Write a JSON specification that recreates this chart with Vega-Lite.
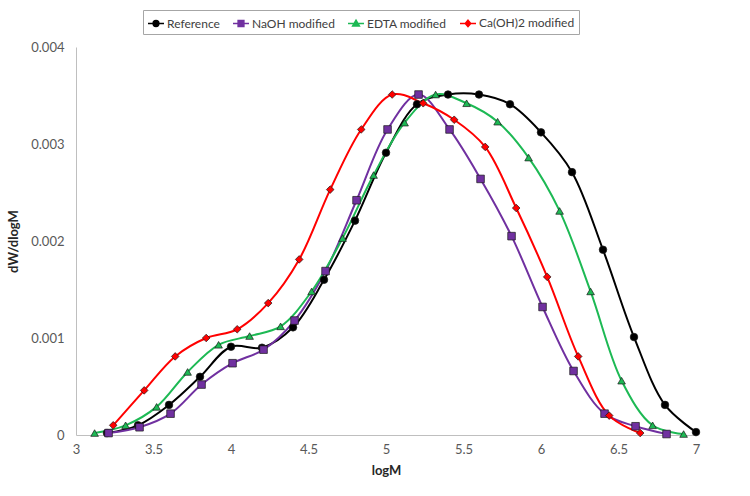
{
  "$schema": "https://vega.github.io/schema/vega-lite/v6.json",
  "autosize": "none",
  "width": 620,
  "height": 388,
  "padding": {"left": 76, "top": 47, "right": 54, "bottom": 61},
  "background": "white",
  "config": {
    "view": {"stroke": null},
    "font": "Lato",
    "axis": {
      "grid": false,
      "ticks": false,
      "domainColor": "#bfbfbf",
      "domainWidth": 1,
      "labelFont": "Lato",
      "labelFontSize": 13,
      "labelColor": "#595959",
      "titleFont": "Lato",
      "titleFontSize": 13,
      "titleFontWeight": "bold",
      "titleColor": "#262626"
    }
  },
  "data": {
    "values": [
      {"series": "Reference", "logM": 3.2, "dw": 0.00002},
      {"series": "Reference", "logM": 3.4, "dw": 0.0001},
      {"series": "Reference", "logM": 3.6, "dw": 0.00031},
      {"series": "Reference", "logM": 3.8, "dw": 0.0006},
      {"series": "Reference", "logM": 4.0, "dw": 0.00091},
      {"series": "Reference", "logM": 4.2, "dw": 0.0009},
      {"series": "Reference", "logM": 4.4, "dw": 0.00111},
      {"series": "Reference", "logM": 4.6, "dw": 0.0016},
      {"series": "Reference", "logM": 4.8, "dw": 0.00221},
      {"series": "Reference", "logM": 5.0, "dw": 0.00291},
      {"series": "Reference", "logM": 5.2, "dw": 0.00341},
      {"series": "Reference", "logM": 5.4, "dw": 0.00351},
      {"series": "Reference", "logM": 5.6, "dw": 0.00351},
      {"series": "Reference", "logM": 5.8, "dw": 0.00341},
      {"series": "Reference", "logM": 6.0, "dw": 0.00312},
      {"series": "Reference", "logM": 6.2, "dw": 0.00271},
      {"series": "Reference", "logM": 6.4, "dw": 0.00191},
      {"series": "Reference", "logM": 6.6, "dw": 0.00101},
      {"series": "Reference", "logM": 6.8, "dw": 0.00031},
      {"series": "Reference", "logM": 7.0, "dw": 0.00003},
      {"series": "NaOH modified", "logM": 3.21, "dw": 0.00002},
      {"series": "NaOH modified", "logM": 3.41, "dw": 0.00008},
      {"series": "NaOH modified", "logM": 3.61, "dw": 0.00022},
      {"series": "NaOH modified", "logM": 3.81, "dw": 0.00052},
      {"series": "NaOH modified", "logM": 4.01, "dw": 0.00074},
      {"series": "NaOH modified", "logM": 4.21, "dw": 0.00088},
      {"series": "NaOH modified", "logM": 4.41, "dw": 0.00118},
      {"series": "NaOH modified", "logM": 4.61, "dw": 0.00169},
      {"series": "NaOH modified", "logM": 4.81, "dw": 0.00242},
      {"series": "NaOH modified", "logM": 5.01, "dw": 0.00315},
      {"series": "NaOH modified", "logM": 5.21, "dw": 0.00351},
      {"series": "NaOH modified", "logM": 5.41, "dw": 0.00315},
      {"series": "NaOH modified", "logM": 5.61, "dw": 0.00264},
      {"series": "NaOH modified", "logM": 5.81, "dw": 0.00205},
      {"series": "NaOH modified", "logM": 6.01, "dw": 0.00132},
      {"series": "NaOH modified", "logM": 6.21, "dw": 0.00066},
      {"series": "NaOH modified", "logM": 6.41, "dw": 0.00022},
      {"series": "NaOH modified", "logM": 6.61, "dw": 0.00009},
      {"series": "NaOH modified", "logM": 6.81, "dw": 0.00001},
      {"series": "EDTA modified", "logM": 3.12, "dw": 0.00002},
      {"series": "EDTA modified", "logM": 3.32, "dw": 0.0001},
      {"series": "EDTA modified", "logM": 3.52, "dw": 0.00029},
      {"series": "EDTA modified", "logM": 3.72, "dw": 0.00065},
      {"series": "EDTA modified", "logM": 3.92, "dw": 0.00093},
      {"series": "EDTA modified", "logM": 4.12, "dw": 0.00102},
      {"series": "EDTA modified", "logM": 4.32, "dw": 0.00112},
      {"series": "EDTA modified", "logM": 4.52, "dw": 0.00148},
      {"series": "EDTA modified", "logM": 4.72, "dw": 0.00203},
      {"series": "EDTA modified", "logM": 4.92, "dw": 0.00268},
      {"series": "EDTA modified", "logM": 5.12, "dw": 0.00322},
      {"series": "EDTA modified", "logM": 5.32, "dw": 0.00351},
      {"series": "EDTA modified", "logM": 5.52, "dw": 0.00342},
      {"series": "EDTA modified", "logM": 5.72, "dw": 0.00323},
      {"series": "EDTA modified", "logM": 5.92, "dw": 0.00286},
      {"series": "EDTA modified", "logM": 6.12, "dw": 0.00231},
      {"series": "EDTA modified", "logM": 6.32, "dw": 0.00148},
      {"series": "EDTA modified", "logM": 6.52, "dw": 0.00056},
      {"series": "EDTA modified", "logM": 6.72, "dw": 0.0001},
      {"series": "EDTA modified", "logM": 6.92, "dw": 0.00001},
      {"series": "Ca(OH)2 modified", "logM": 3.24, "dw": 0.0001},
      {"series": "Ca(OH)2 modified", "logM": 3.44, "dw": 0.00046},
      {"series": "Ca(OH)2 modified", "logM": 3.64, "dw": 0.00081},
      {"series": "Ca(OH)2 modified", "logM": 3.84, "dw": 0.001},
      {"series": "Ca(OH)2 modified", "logM": 4.04, "dw": 0.00109},
      {"series": "Ca(OH)2 modified", "logM": 4.24, "dw": 0.00136},
      {"series": "Ca(OH)2 modified", "logM": 4.44, "dw": 0.00181},
      {"series": "Ca(OH)2 modified", "logM": 4.64, "dw": 0.00253},
      {"series": "Ca(OH)2 modified", "logM": 4.84, "dw": 0.00315},
      {"series": "Ca(OH)2 modified", "logM": 5.04, "dw": 0.00351},
      {"series": "Ca(OH)2 modified", "logM": 5.24, "dw": 0.00342},
      {"series": "Ca(OH)2 modified", "logM": 5.44, "dw": 0.00325},
      {"series": "Ca(OH)2 modified", "logM": 5.64, "dw": 0.00297},
      {"series": "Ca(OH)2 modified", "logM": 5.84, "dw": 0.00234},
      {"series": "Ca(OH)2 modified", "logM": 6.04, "dw": 0.00163},
      {"series": "Ca(OH)2 modified", "logM": 6.24, "dw": 0.00081},
      {"series": "Ca(OH)2 modified", "logM": 6.44, "dw": 0.0002},
      {"series": "Ca(OH)2 modified", "logM": 6.64, "dw": 0.00002}
    ]
  },
  "encoding": {
    "x": {
      "field": "logM", "type": "quantitative", "title": "logM",
      "scale": {"domain": [3, 7], "nice": false, "zero": false},
      "axis": {"values": [3, 3.5, 4, 4.5, 5, 5.5, 6, 6.5, 7], "format": "~g", "labelPadding": 8, "titlePadding": 8, "labelFlush": false}
    },
    "y": {
      "field": "dw", "type": "quantitative", "title": "dW/dlogM",
      "scale": {"domain": [0, 0.004], "nice": false},
      "axis": {"values": [0, 0.001, 0.002, 0.003, 0.004], "format": ".3~f", "labelPadding": 12, "titlePadding": 10, "labelFlush": false}
    }
  },
  "layer": [
    {
      "mark": {"type": "line", "interpolate": "catmull-rom", "strokeWidth": 2},
      "encoding": {
        "color": {
          "field": "series", "type": "nominal", "legend": null,
          "scale": {
            "domain": ["Reference", "NaOH modified", "EDTA modified", "Ca(OH)2 modified"],
            "range": ["#000000", "#7030a0", "#1db954", "#ff0000"]
          }
        }
      }
    },
    {
      "mark": {"type": "point", "filled": true, "opacity": 1, "stroke": "#1a1a1a", "strokeWidth": 0.7, "size": 58},
      "encoding": {
        "color": {"field": "series", "type": "nominal", "legend": null},
        "shape": {
          "field": "series", "type": "nominal", "legend": null,
          "scale": {
            "domain": ["Reference", "NaOH modified", "EDTA modified", "Ca(OH)2 modified"],
            "range": ["circle", "square", "triangle-up", "diamond"]
          }
        }
      }
    },
    {
      "mark": {"type": "point", "opacity": 0},
      "encoding": {
        "shape": {
          "field": "series", "type": "nominal", "title": null,
          "scale": {
            "domain": ["Reference", "NaOH modified", "EDTA modified", "Ca(OH)2 modified"],
            "range": [
              "M-1,0H1M0.36,0A0.36,0.36,0,1,1,-0.36,0A0.36,0.36,0,1,1,0.36,0Z",
              "M-1,0H1M-0.36,-0.36H0.36V0.36H-0.36Z",
              "M-1,0H1M0,-0.42L0.42,0.3H-0.42Z",
              "M-1,0H1M0,-0.4L0.34,0L0,0.4L-0.34,0Z"
            ]
          },
          "legend": {
            "orient": "none", "legendX": 67, "legendY": -37,
            "direction": "horizontal", "title": null,
            "strokeColor": "#a6a6a6", "padding": 4,
            "symbolSize": 256, "symbolStrokeWidth": 1.5, "symbolOpacity": 1,
            "labelFont": "Lato", "labelFontSize": 12, "labelColor": "#404040",
            "columnPadding": 10, "labelOffset": 2
          }
        },
        "fill": {
          "field": "series", "type": "nominal", "title": null,
          "scale": {
            "domain": ["Reference", "NaOH modified", "EDTA modified", "Ca(OH)2 modified"],
            "range": ["#000000", "#7030a0", "#1db954", "#ff0000"]
          }
        },
        "stroke": {
          "field": "series", "type": "nominal", "title": null,
          "scale": {
            "domain": ["Reference", "NaOH modified", "EDTA modified", "Ca(OH)2 modified"],
            "range": ["#000000", "#7030a0", "#1db954", "#ff0000"]
          }
        }
      }
    }
  ],
  "resolve": {"scale": {"shape": "independent", "fill": "independent", "stroke": "independent"}}
}
